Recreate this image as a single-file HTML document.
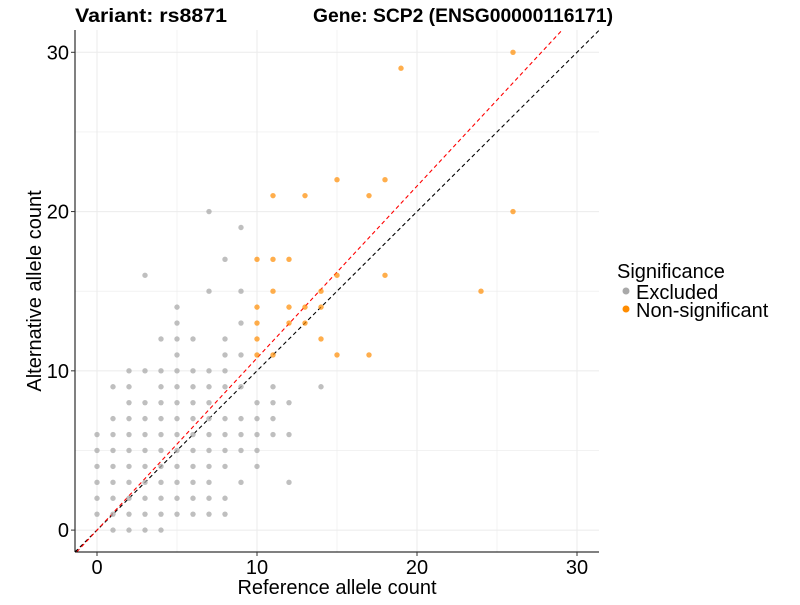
<!DOCTYPE html>
<html><head><meta charset="utf-8"><style>
body{margin:0;background:#fff;font-family:"Liberation Sans",Arial,sans-serif}
</style></head><body>
<svg width="800" height="600" xmlns="http://www.w3.org/2000/svg">
<g id="grid"></g>
<g id="lines"></g>
<g id="pts"></g>
<g id="axes"></g>
<text x="75" y="22" font-size="19" font-weight="bold" textLength="152" lengthAdjust="spacingAndGlyphs">Variant: rs8871</text>
<text x="313" y="22" font-size="19" font-weight="bold" textLength="300" lengthAdjust="spacingAndGlyphs">Gene: SCP2 (ENSG00000116171)</text>
<text x="337" y="594" font-size="20" text-anchor="middle">Reference allele count</text>
<text transform="translate(41,291) rotate(-90)" font-size="20" text-anchor="middle">Alternative allele count</text>
<g>
<text x="617" y="278" font-size="20">Significance</text>
<circle cx="626" cy="291" r="3.5" fill="#a9a9a9"/>
<text x="636" y="299" font-size="20">Excluded</text>
<circle cx="626" cy="309" r="3.5" fill="#ff8c00"/>
<text x="636" y="317" font-size="20">Non-significant</text>
</g>
</svg>
<script>
const greyX=[7,9,8,3,7,9,5,5,9,4,5,6,8,5,8,9,2,3,4,5,6,7,8,1,2,4,5,6,7,8,9,11,14,2,3,4,5,6,7,10,11,12,1,2,3,4,5,6,7,8,9,10,11,0,1,2,3,4,5,6,7,8,9,10,11,12,0,1,2,3,4,5,6,7,8,9,10,0,1,2,3,4,5,6,7,8,10,0,1,2,3,4,5,6,7,9,12,0,1,2,3,4,5,6,7,8,0,1,2,3,4,5,6,7,8,1,2,3,4];
const greyY=[20,19,17,16,15,15,14,13,13,12,12,12,12,11,11,11,10,10,10,10,10,10,10,9,9,9,9,9,9,9,9,9,9,8,8,8,8,8,8,8,8,8,7,7,7,7,7,7,7,7,7,7,7,6,6,6,6,6,6,6,6,6,6,6,6,6,5,5,5,5,5,5,5,5,5,5,5,4,4,4,4,4,4,4,4,4,4,3,3,3,3,3,3,3,3,3,3,2,2,2,2,2,2,2,2,2,1,1,1,1,1,1,1,1,1,0,0,0,0];
const orangeX=[26,19,15,18,11,13,17,26,10,11,12,15,18,11,14,24,10,12,13,14,10,12,13,10,14,10,11,15,17];
const orangeY=[30,29,22,22,21,21,21,20,17,17,17,16,16,15,15,15,14,14,14,14,13,13,13,12,12,11,11,11,11];
const xTicks=[0,10,20,30];
const yTicks=[0,10,20,30];
const redSlope=1.08;
const NS="http://www.w3.org/2000/svg";
const X0=75,X1=599,Y0=552,Y1=30,DMIN=-1.375,DMAXX=31.375,DMAXY=31.4;
const sx=v=>X0+(v-DMIN)/(DMAXX-DMIN)*(X1-X0);
const sy=v=>Y0-(v-DMIN)/(DMAXY-DMIN)*(Y0-Y1);
function mk(tag,attrs,parent){const e=document.createElementNS(NS,tag);for(const k in attrs)e.setAttribute(k,attrs[k]);parent.appendChild(e);return e;}
const grid=document.getElementById('grid');
for(let v=0;v<=30;v+=5){
 const major=v%10===0;
 const gl=mk('line',{x1:sx(v),x2:sx(v),y1:Y1,y2:Y0,stroke:'#ebebeb','stroke-width':major?1:0.6},grid);
 
 
 const gh=mk('line',{x1:X0,x2:X1,y1:sy(v),y2:sy(v),stroke:'#ebebeb','stroke-width':major?1:0.6},grid);
 
 
}
const lines=document.getElementById('lines');
const clipEnd=(m)=>Math.min(DMAXX,DMAXY/m);
let xe=clipEnd(1);
const bl=mk('line',{x1:sx(DMIN),y1:sy(DMIN),x2:sx(xe),y2:sy(xe),stroke:'#000','stroke-width':1.1,'stroke-dasharray':'4,3'},lines);


xe=clipEnd(redSlope);
const rl=mk('line',{x1:sx(DMIN/redSlope),y1:sy(DMIN),x2:sx(xe),y2:sy(xe*redSlope),stroke:'#ff0000','stroke-width':1.1,'stroke-dasharray':'4,3'},lines);


const pts=document.getElementById('pts');
greyX.forEach((x,i)=>{
 const c=mk('circle',{cx:sx(x),cy:sy(greyY[i]),r:2.7,fill:'#a9a9a9','fill-opacity':0.75},pts);
 
 
});
orangeX.forEach((x,i)=>{
 const c=mk('circle',{cx:sx(x),cy:sy(orangeY[i]),r:2.7,fill:'#ff8c00','fill-opacity':0.7},pts);
 
 
});
const axes=document.getElementById('axes');
const ax=mk('line',{x1:X0,x2:X0,y1:Y1,y2:Y0,stroke:'#000','stroke-width':1},axes);


const ay=mk('line',{x1:X0,x2:X1,y1:Y0,y2:Y0,stroke:'#000','stroke-width':1},axes);


xTicks.forEach(v=>{
 const t=mk('line',{x1:sx(v),x2:sx(v),y1:Y0,y2:Y0+4,stroke:'#333'},axes);
 
 
 const l=mk('text',{x:sx(v),y:Y0+22,'font-size':20,'text-anchor':'middle',fill:'#000'},axes);
 l.textContent=v;
 
 
});
yTicks.forEach(v=>{
 const t=mk('line',{x1:X0-4,x2:X0,y1:sy(v),y2:sy(v),stroke:'#333'},axes);
 
 
 const l=mk('text',{x:X0-6,y:sy(v)+7,'font-size':20,'text-anchor':'end',fill:'#000'},axes);
 l.textContent=v;
 
 
});
</script>
</body></html>
